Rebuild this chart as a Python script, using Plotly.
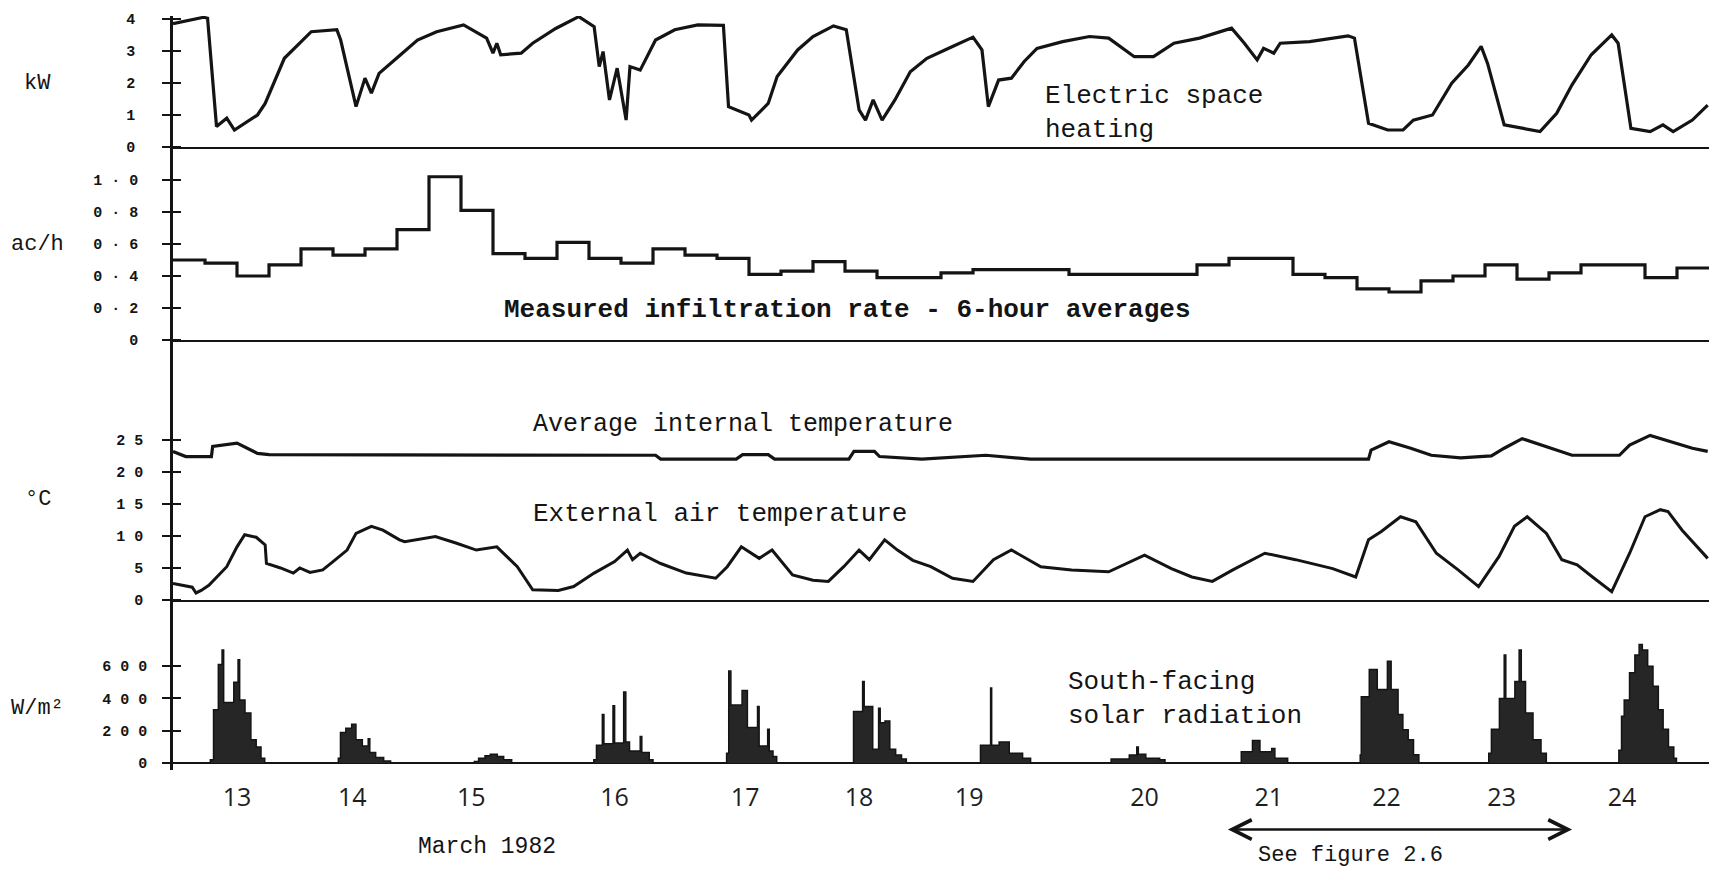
import plotly.graph_objects as go
from plotly.subplots import make_subplots

# ---------------- data ----------------
# Electric space heating (kW), x in days of March 1982
heat_day = [13.00, 13.24, 13.27, 13.34, 13.42, 13.48, 13.66, 13.72, 13.87, 14.08, 14.28, 14.31,
            14.43, 14.50, 14.55, 14.61, 14.76, 14.91, 15.06, 15.27, 15.45, 15.50, 15.53, 15.56,
            15.72, 15.81, 15.99, 16.17, 16.29, 16.33, 16.36, 16.41, 16.47, 16.54, 16.57, 16.65,
            16.77, 16.92, 17.10, 17.30, 17.34, 17.50, 17.52, 17.65, 17.72, 17.88, 18.00, 18.16,
            18.26, 18.36, 18.41, 18.47, 18.54, 18.64, 18.76, 18.89, 19.09, 19.25, 19.32, 19.37,
            19.45, 19.55, 19.65, 19.75, 19.95, 20.16, 20.31, 20.51, 20.66, 20.82, 21.02, 21.17,
            21.27, 21.37, 21.47, 21.52, 21.60, 21.65, 21.88, 22.18, 22.23, 22.34, 22.49, 22.61,
            22.69, 22.84, 22.99, 23.12, 23.22, 23.27, 23.40, 23.55, 23.68, 23.81, 23.93, 24.08,
            24.24, 24.29, 24.39, 24.54, 24.64, 24.72, 24.87, 24.99]
heat_kw = [3.85, 4.05, 4.02, 0.64, 0.90, 0.53, 1.00, 1.36, 2.77, 3.60, 3.66, 3.34,
           1.26, 2.15, 1.68, 2.30, 2.82, 3.34, 3.60, 3.81, 3.40, 2.93, 3.24, 2.88,
           2.93, 3.24, 3.70, 4.07, 3.76, 2.51, 2.98, 1.47, 2.46, 0.84, 2.51, 2.40,
           3.34, 3.66, 3.81, 3.80, 1.26, 1.00, 0.84, 1.36, 2.20, 3.03, 3.45, 3.78,
           3.66, 1.16, 0.84, 1.47, 0.84, 1.47, 2.35, 2.77, 3.14, 3.43, 3.03, 1.26,
           2.09, 2.15, 2.67, 3.08, 3.29, 3.45, 3.40, 2.82, 2.82, 3.24, 3.40, 3.60,
           3.71, 3.24, 2.72, 3.08, 2.93, 3.24, 3.29, 3.47, 3.40, 0.74, 0.53, 0.53,
           0.84, 1.00, 1.99, 2.56, 3.14, 2.61, 0.69, 0.58, 0.48, 1.05, 1.94, 2.88,
           3.50, 3.24, 0.58, 0.48, 0.69, 0.48, 0.84, 1.31]

# Measured infiltration rate (ac/h), 6-hour averages starting 13 March 00:00
infil_start_day = 13.0
infil_step_hours = 6
infil_ach = [0.50, 0.48, 0.40, 0.47, 0.57, 0.53, 0.57, 0.69,
             1.02, 0.81, 0.54, 0.51, 0.61, 0.51, 0.48, 0.57,
             0.53, 0.51, 0.41, 0.43, 0.49, 0.43, 0.39, 0.39,
             0.42, 0.44, 0.44, 0.44, 0.41, 0.41, 0.41, 0.41,
             0.47, 0.51, 0.51, 0.41, 0.39, 0.32, 0.30, 0.37,
             0.40, 0.47, 0.38, 0.42, 0.47, 0.47, 0.39, 0.45]

# Average internal temperature (deg C)
tin_day = [13.00, 13.10, 13.30, 13.31, 13.50, 13.66, 13.75, 16.77, 16.81, 17.40, 17.45, 17.65,
           17.70, 18.28, 18.32, 18.48, 18.52, 18.85, 19.35, 19.70, 22.34, 22.36, 22.50, 22.67,
           22.83, 23.06, 23.30, 23.40, 23.54, 23.69, 23.93, 24.30, 24.38, 24.54, 24.70, 24.87, 24.99]
tin_c = [23.2, 22.4, 22.4, 24.0, 24.5, 22.9, 22.7, 22.6, 22.0, 22.0, 22.7, 22.7,
         22.0, 22.0, 23.2, 23.2, 22.4, 22.0, 22.6, 22.0, 22.0, 23.4, 24.7, 23.7,
         22.6, 22.2, 22.5, 23.7, 25.2, 24.2, 22.6, 22.6, 24.2, 25.7, 24.7, 23.7, 23.2]

# External air temperature (deg C)
tex_day = [13.00, 13.10, 13.15, 13.18, 13.22, 13.28, 13.42, 13.50, 13.56, 13.65, 13.72, 13.73,
           13.84, 13.94, 13.99, 14.07, 14.17, 14.25, 14.36, 14.43, 14.55, 14.64, 14.77, 14.81,
           15.05, 15.21, 15.37, 15.53, 15.61, 15.69, 15.81, 16.01, 16.13, 16.29, 16.45, 16.55,
           16.59, 16.65, 16.81, 17.01, 17.24, 17.33, 17.44, 17.58, 17.68, 17.84, 18.00, 18.12,
           18.24, 18.36, 18.44, 18.56, 18.66, 18.78, 18.92, 19.09, 19.25, 19.41, 19.55, 19.78,
           20.02, 20.31, 20.59, 20.80, 20.96, 21.12, 21.28, 21.53, 21.77, 22.06, 22.24, 22.34,
           22.44, 22.59, 22.71, 22.87, 23.04, 23.20, 23.36, 23.48, 23.58, 23.73, 23.85, 23.97,
           24.09, 24.24, 24.38, 24.50, 24.62, 24.68, 24.79, 24.99]
tex_c = [2.6, 2.2, 2.0, 1.1, 1.5, 2.3, 5.2, 8.3, 10.2, 9.8, 8.6, 5.7,
         5.0, 4.2, 5.0, 4.3, 4.7, 6.0, 7.8, 10.4, 11.5, 10.9, 9.4, 9.1,
         9.9, 8.9, 7.8, 8.3, 6.8, 5.2, 1.6, 1.5, 2.1, 4.2, 6.0, 7.8,
         6.3, 7.3, 5.7, 4.2, 3.4, 5.2, 8.3, 6.5, 7.8, 3.9, 3.1, 2.9,
         5.2, 7.8, 6.3, 9.4, 7.8, 6.2, 5.2, 3.4, 2.9, 6.3, 7.8, 5.2,
         4.7, 4.4, 7.0, 4.9, 3.6, 2.9, 4.7, 7.3, 6.3, 4.9, 3.6, 9.4,
         10.7, 13.0, 12.2, 7.3, 4.7, 2.1, 6.8, 11.5, 13.0, 10.4, 6.3, 5.5,
         3.6, 1.3, 7.3, 13.0, 14.1, 13.8, 10.9, 6.5]

# South-facing solar radiation (W/m2): breakpoints (hour of day) per day
solar_days = [13, 14, 15, 16, 17, 18, 19, 20, 21, 22, 23, 24]
solar_hours = {
    13: [7.0, 7.6, 8.5, 9.2, 9.5, 11.4, 12.2, 12.5, 13.5, 14.6, 15.6, 16.5, 17.2],
    14: [7.0, 7.4, 8.4, 9.5, 10.3, 11.5, 12.6, 12.9, 14.0, 15.5, 16.8],
    15: [8.5, 9.3, 10.5, 11.5, 12.8, 14.0, 15.5],
    16: [6.9, 7.4, 8.5, 8.8, 10.5, 10.8, 12.5, 12.9, 13.6, 15.6, 15.9, 17.3, 18.0],
    17: [7.8, 8.2, 8.6, 10.7, 11.7, 13.6, 13.9, 15.5, 15.8, 16.5, 17.2],
    18: [7.6, 9.3, 9.6, 11.2, 12.3, 12.6, 13.5, 14.4, 15.5, 16.6, 17.5],
    19: [7.4, 9.3, 9.5, 10.9, 12.8, 15.3, 16.8],
    20: [7.9, 11.3, 12.7, 13.0, 14.4, 17.0, 18.0],
    21: [8.3, 10.4, 11.8, 14.0, 14.6, 17.0],
    22: [6.6, 6.8, 8.3, 9.8, 11.7, 12.4, 13.7, 14.6, 15.6, 16.6, 17.6],
    23: [6.7, 7.2, 8.7, 9.6, 9.9, 11.6, 12.4, 12.8, 13.6, 15.0, 16.5, 17.5],
    24: [7.1, 7.6, 8.1, 9.1, 10.1, 10.9, 11.5, 12.5, 13.5, 14.5, 15.4, 16.4, 17.4, 17.9],
}
solar_wm2 = {
    13: [20, 330, 610, 700, 375, 500, 640, 390, 310, 145, 100, 30, 0],
    14: [30, 190, 215, 240, 145, 105, 150, 65, 35, 12, 0],
    15: [10, 30, 45, 55, 40, 20, 0],
    16: [20, 110, 300, 120, 355, 125, 440, 130, 75, 165, 65, 20, 0],
    17: [60, 570, 360, 450, 220, 350, 105, 210, 75, 40, 0],
    18: [320, 505, 350, 85, 340, 250, 260, 85, 50, 25, 0],
    19: [110, 465, 110, 130, 60, 30, 0],
    20: [25, 50, 100, 55, 30, 20, 0],
    21: [70, 140, 70, 90, 30, 0],
    22: [50, 410, 580, 455, 630, 455, 300, 207, 145, 52, 0],
    23: [60, 210, 400, 670, 400, 505, 700, 505, 310, 145, 60, 0],
    24: [80, 290, 390, 560, 670, 735, 700, 600, 475, 330, 210, 100, 30, 0],
}

# hand-lettered day labels sit roughly under each day's solar burst
day_tick_pos = [13.5, 14.4, 15.33, 16.45, 17.47, 18.36, 19.22, 20.59, 21.56, 22.48, 23.38, 24.32]
day_tick_text = ["13", "14", "15", "16", "17", "18", "19", "20", "21", "22", "23", "24"]

kw_ticks = [0, 1, 2, 3, 4]
kw_text = ["0", "1", "2", "3", "4"]
ach_ticks = [0, 0.2, 0.4, 0.6, 0.8, 1.0]
ach_text = ["0", "0 · 2", "0 · 4", "0 · 6", "0 · 8", "1 · 0"]
temp_ticks = [0, 5, 10, 15, 20, 25]
temp_text = ["0", "5", "1 0", "1 5", "2 0", "2 5"]
sol_ticks = [0, 200, 400, 600]
sol_text = ["0", "2 0 0", "4 0 0", "6 0 0"]

X_START, X_END = 13.0, 25.0

# ---------------- derived series ----------------
infil_x = [infil_start_day + i * infil_step_hours / 24 for i in range(len(infil_ach))] + [X_END]
infil_y = infil_ach + [infil_ach[-1]]

sol_x = [X_START]
sol_y = [0]
for d in solar_days:
    for h, v in zip(solar_hours[d], solar_wm2[d]):
        sol_x.append(d + h / 24)
        sol_y.append(v)
sol_x.append(X_END)
sol_y.append(0)

# ---------------- figure ----------------
INK = "#141414"
MONO = "Liberation Mono"

fig = make_subplots(rows=4, cols=1, shared_xaxes=True, vertical_spacing=0,
                    row_heights=[131, 193, 260, 170])

fig.add_trace(go.Scatter(x=heat_day, y=heat_kw, mode="lines",
                         line=dict(color=INK, width=3.2)), row=1, col=1)
fig.add_trace(go.Scatter(x=infil_x, y=infil_y, mode="lines",
                         line=dict(color=INK, width=3.2, shape="hv")), row=2, col=1)
fig.add_trace(go.Scatter(x=tin_day, y=tin_c, mode="lines",
                         line=dict(color=INK, width=3.2)), row=3, col=1)
fig.add_trace(go.Scatter(x=tex_day, y=tex_c, mode="lines",
                         line=dict(color=INK, width=3.0)), row=3, col=1)
fig.add_trace(go.Scatter(x=sol_x, y=sol_y, mode="lines", fill="tozeroy",
                         fillcolor="#262626",
                         line=dict(color=INK, width=1.5, shape="hv")), row=4, col=1)

tick_font = dict(family=MONO, size=15, color=INK, weight=700)


def yax(ticks, text, rng, standoff, zeroline=False):
    eps = (rng[1] - rng[0]) * 1e-4
    return dict(
        range=rng, tickmode="array", tickvals=ticks, ticktext=text,
        showline=True, linecolor=INK, linewidth=2.6,
        ticks="outside", ticklen=8, tickwidth=2.2, tickcolor=INK,
        minor=dict(tickmode="array", tickvals=[t + eps for t in ticks], ticks="inside",
                   ticklen=8, tickwidth=2.2, tickcolor=INK, showgrid=False),
        showgrid=False, zeroline=zeroline, zerolinecolor=INK, zerolinewidth=2.4,
        tickfont=tick_font, ticklabelstandoff=standoff, fixedrange=True,
    )


fig.update_layout(
    width=1717, height=875,
    margin=dict(l=173, r=8, t=16, b=105),
    paper_bgcolor="white", plot_bgcolor="white",
    showlegend=False,
    yaxis=yax(kw_ticks, kw_text, [0, 4.09], 24),
    yaxis2=yax(ach_ticks, ach_text, [0, 1.206], 21),
    yaxis3=yax(temp_ticks, temp_text, [0, 40.6], 16),
    yaxis4=yax(sol_ticks, sol_text, [-43, 1010], 12, zeroline=True),
)

for i in (1, 2, 3):
    fig.update_xaxes(range=[X_START, X_END], showline=True, linecolor=INK, linewidth=2.2,
                     ticks="", showgrid=False, zeroline=False, showticklabels=False,
                     row=i, col=1)
fig.update_xaxes(range=[X_START, X_END], showline=False, ticks="", showgrid=False,
                 zeroline=False, tickmode="array", tickvals=day_tick_pos,
                 ticktext=day_tick_text, ticklabelstandoff=10,
                 tickfont=dict(family="Open Sans", size=25, color="#1e1e1e"),
                 row=4, col=1)

TXT = dict(family=MONO, size=26, color=INK)
ann = []
# axis unit labels
for txt, yp in [("kW", 0.9111), ("ac/h", 0.6976), ("°C", 0.3581), ("W/m²", 0.0822)]:
    ann.append(dict(text=txt, xref="paper", yref="paper", x=-0.088, y=yp,
                    showarrow=False, font=dict(family=MONO, size=22, color=INK),
                    xanchor="center", yanchor="middle"))
# in-panel labels
ann.append(dict(text="Electric space<br>heating", xref="x", yref="y", x=19.8, y=1.05,
                showarrow=False, font=TXT, xanchor="left", yanchor="middle", align="left"))
ann.append(dict(text="<b>Measured infiltration rate - 6-hour averages</b>", xref="x2", yref="y2",
                x=15.57, y=0.19, showarrow=False, font=TXT, xanchor="left", yanchor="middle"))
ann.append(dict(text="Average internal temperature", xref="x3", yref="y3", x=15.8, y=27.4,
                showarrow=False, font=dict(family=MONO, size=25, color=INK),
                xanchor="left", yanchor="middle"))
ann.append(dict(text="External air temperature", xref="x3", yref="y3", x=15.8, y=13.4,
                showarrow=False, font=TXT, xanchor="left", yanchor="middle"))
ann.append(dict(text="South-facing<br>solar radiation", xref="x4", yref="y4", x=19.98, y=394,
                showarrow=False, font=TXT, xanchor="left", yanchor="middle", align="left"))
# bottom texts
ann.append(dict(text="March 1982", xref="x4", yref="paper", x=15.45, y=-0.102,
                showarrow=False, font=dict(family=MONO, size=23, color=INK),
                xanchor="center", yanchor="middle"))
ann.append(dict(text="See figure 2.6", xref="x4", yref="paper", x=22.2, y=-0.114,
                showarrow=False, font=dict(family=MONO, size=22, color=INK),
                xanchor="center", yanchor="middle"))
ann.append(dict(text="", xref="x4", yref="paper", x=23.93, y=-0.079,
                axref="x4", ayref="pixel", ax=21.23, ay=0,
                showarrow=True, arrowhead=5, startarrowhead=5, arrowside="end+start",
                arrowsize=1.6, startarrowsize=1.6, arrowwidth=2.4, arrowcolor=INK))
fig.update_layout(annotations=ann)

fig.write_html("out.html")
